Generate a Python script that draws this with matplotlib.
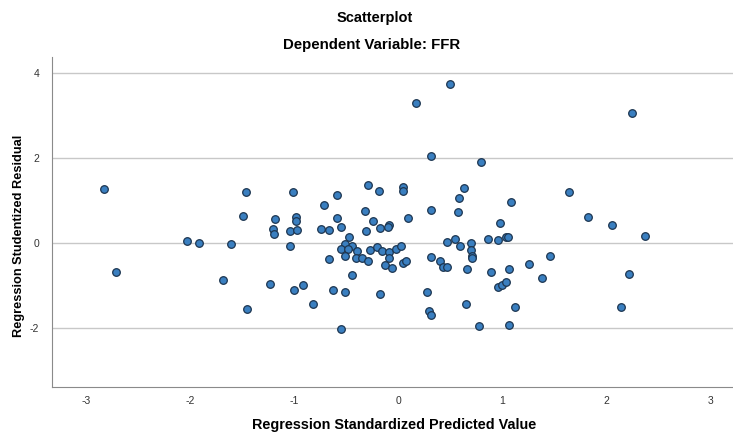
import matplotlib.pyplot as plt
import numpy as np

# predicted (standardized) vs studentized residual
pred = np.array([
    -2.83, -2.71, -2.03, -1.91, -1.61, -1.68, -1.49, -1.46, -1.45,
    0.50, 0.17, 0.32, 0.80, -0.29, 0.05, 0.05, -0.18, 0.63, 0.59,
    -1.01, -0.59, -0.71, -0.32, 0.32, 0.58, -1.18, -0.98, -0.98, -0.59,
    -0.24, 0.10, -1.20, -1.19, -1.04, -0.97, -0.74, -0.66, -0.55, -0.31,
    -0.17, -0.09, -0.10, -1.04, -0.47, -0.51, -0.44, -0.55, -0.48, -0.39,
    -0.27, -0.20, -0.15, -0.09, -0.02, 0.03, -0.51, -0.40, -0.35, -0.29,
    -0.66, -0.09, -0.13, -0.06, 0.05, 0.08, 0.32, 0.40, 0.43, 0.47,
    0.47, 0.55, 0.60, 0.70, 0.70, 0.71, 0.71, 0.66, 0.86, 0.89,
    -0.44, -1.23, -1.00, -0.91, -0.63, -0.51, -0.82, -0.17, 0.28, 0.30,
    0.32, 0.65, 0.78, -0.55,
    2.25, 1.64, 1.09, 1.83, 2.06, 2.37, 0.98, 0.96, 1.04, 1.06,
    1.46, 1.26, 1.07, 1.38, 2.22, 0.96, 1.00, 1.04, 1.12, 2.14, 1.07,
])
resid = np.array([
    1.28, -0.68, 0.05, 0.01, -0.02, -0.86, 0.63, 1.21, -1.55,
    3.74, 3.30, 2.05, 1.91, 1.38, 1.32, 1.24, 1.22, 1.30, 1.07,
    1.21, 1.13, 0.89, 0.76, 0.79, 0.73, 0.56, 0.61, 0.52, 0.60,
    0.52, 0.59, 0.34, 0.22, 0.29, 0.30, 0.34, 0.32, 0.38, 0.28,
    0.36, 0.42, 0.39, -0.07, 0.15, -0.02, -0.06, -0.13, -0.14, -0.18,
    -0.17, -0.10, -0.19, -0.20, -0.14, -0.06, -0.30, -0.34, -0.35, -0.42,
    -0.38, -0.35, -0.51, -0.59, -0.47, -0.41, -0.32, -0.42, -0.56, -0.56,
    0.02, 0.11, -0.06, 0.01, -0.17, -0.30, -0.34, -0.61, 0.10, -0.68,
    -0.75, -0.97, -1.11, -0.98, -1.11, -1.15, -1.43, -1.19, -1.15, -1.59,
    -1.70, -1.42, -1.94, -2.02,
    3.06, 1.21, 0.98, 0.61, 0.44, 0.18, 0.47, 0.08, 0.14, 0.14,
    -0.30, -0.49, -0.61, -0.82, -0.73, -1.04, -0.98, -0.92, -1.50, -1.51, -1.93,
])

plt.rcParams['font.family'] = ['Liberation Sans', 'DejaVu Sans']
plt.rcParams['axes.unicode_minus'] = False

fig = plt.figure(figsize=(7.33, 4.32), dpi=100)
ax = fig.add_axes([0.0705, 0.1035, 0.9295, 0.7653])

ax.scatter(pred, resid, s=30, color='#3a7fc0', edgecolors='#1c3550',
           linewidths=0.9, zorder=3)

ax.set_xlim(-3.33, 3.22)
ax.set_ylim(-3.39, 4.39)
ax.set_xticks([-3, -2, -1, 0, 1, 2, 3])
ax.set_yticks([-2, 0, 2, 4])
ax.yaxis.grid(True, color='#c8c8c8', linewidth=1.0)
ax.set_axisbelow(True)
ax.tick_params(axis='x', length=0, labelsize=7.5, labelcolor='#333333', pad=6)
ax.tick_params(axis='y', length=0, labelsize=7.5, labelcolor='#333333', pad=9)

for side in ['top', 'right']:
    ax.spines[side].set_visible(False)
for side in ['left', 'bottom']:
    ax.spines[side].set_color('#8a8a8a')

# axis titles placed like the SPSS output
fig.text(0.5375, 1 - 425 / 432, 'Regression Standardized Predicted Value',
         ha='center', va='center', fontsize=10.4, fontweight='bold')
fig.text(19 / 733, 1 - 236 / 432, 'Regression Studentized Residual',
         ha='center', va='center', rotation=90, fontsize=9.2, fontweight='bold')

fig.text(375 / 733, 1 - 18 / 432, 'Scatterplot', ha='center', va='center',
         fontsize=10.5, fontweight='bold')
fig.text(372 / 733, 1 - 45 / 432, 'Dependent Variable: FFR', ha='center',
         va='center', fontsize=10.8, fontweight='bold')

plt.savefig('out.png', dpi=100)
